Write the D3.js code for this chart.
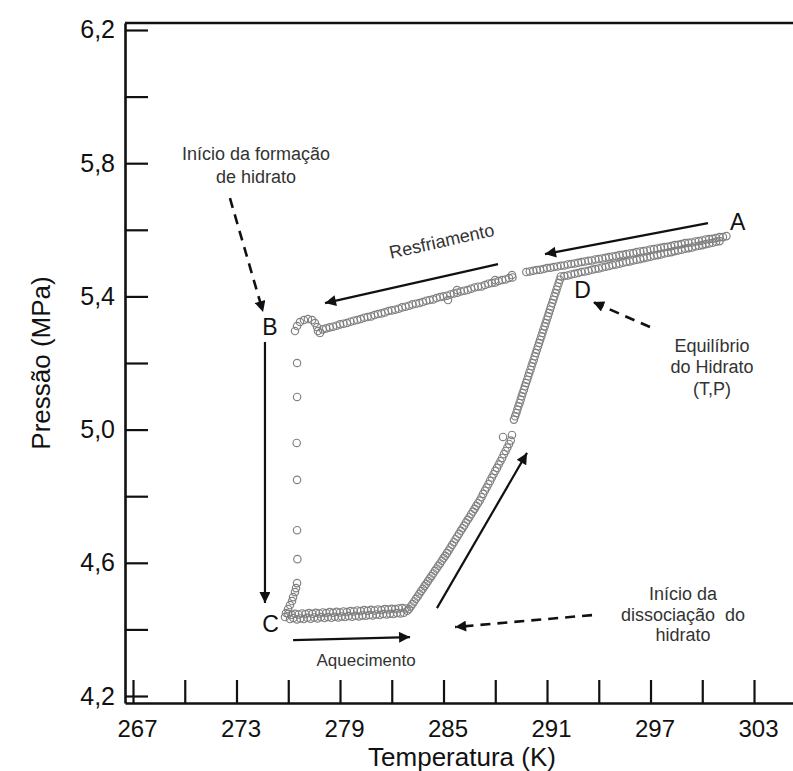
<!DOCTYPE html>
<html><head><meta charset="utf-8">
<script src="https://cdn.jsdelivr.net/npm/d3@7"></script>
<style>
html,body{margin:0;padding:0;background:#fff;}
svg text{font-family:"Liberation Sans",Arial,sans-serif;}
</style></head>
<body><svg id="chart" width="793" height="771"></svg>
<script>
// ---- data (T in K, P in MPa) ----
const xTicks = [267,270,273,276,279,282,285,288,291,294,297,300,303];
const xTickLabels = [267,273,279,285,291,297,303];
const yTicks = [4.2,4.4,4.6,4.8,5.0,5.2,5.4,5.6,5.8,6.0,6.2];
const yTickLabels = [4.2,4.6,5.0,5.4,5.8,6.2];

const coolingUpper = [[301.4,5.581],[301.2,5.578],[301.0,5.578],[300.8,5.575],[300.6,5.573],[300.4,5.572],[300.2,5.571],[300.0,5.568],[299.8,5.566],[299.6,5.565],[299.4,5.562],[299.2,5.561],[299.0,5.560],[298.8,5.557],[298.6,5.555],[298.4,5.554],[298.2,5.551],[298.0,5.549],[297.8,5.548],[297.6,5.546],[297.4,5.544],[297.2,5.542],[297.0,5.541],[296.8,5.538],[296.6,5.536],[296.4,5.535],[296.2,5.533],[296.0,5.530],[295.8,5.529],[295.6,5.527],[295.4,5.525],[295.2,5.524],[295.0,5.521],[294.8,5.520],[294.6,5.518],[294.4,5.516],[294.2,5.514],[294.0,5.512],[293.8,5.511],[293.6,5.508],[293.4,5.507],[293.2,5.505],[293.0,5.503],[292.8,5.501],[292.6,5.499],[292.4,5.497],[292.2,5.496],[292.0,5.493],[291.8,5.492],[291.6,5.490],[291.4,5.488],[291.2,5.486],[291.0,5.485],[290.8,5.482],[290.6,5.480],[290.4,5.479],[290.2,5.477],[290.0,5.475],[289.8,5.473]];

const coolingLower = [[289.0,5.457],[288.8,5.455],[288.6,5.451],[288.4,5.449],[288.2,5.446],[288.0,5.442],[287.8,5.440],[287.6,5.438],[287.4,5.434],[287.2,5.430],[287.0,5.429],[286.8,5.427],[286.6,5.423],[286.4,5.419],[286.2,5.417],[286.0,5.415],[285.8,5.411],[285.6,5.409],[285.4,5.406],[285.2,5.402],[285.0,5.400],[284.8,5.398],[284.6,5.395],[284.4,5.391],[284.2,5.389],[284.0,5.387],[283.8,5.383],[283.6,5.380],[283.4,5.378],[283.2,5.376],[283.0,5.372],[282.8,5.369],[282.6,5.367],[282.4,5.363],[282.2,5.360],[282.0,5.358],[281.8,5.356],[281.6,5.352],[281.4,5.349],[281.2,5.347],[281.0,5.344],[280.8,5.340],[280.6,5.338],[280.4,5.336],[280.2,5.332],[280.0,5.329],[279.8,5.327],[279.6,5.324],[279.4,5.320],[279.2,5.318],[279.0,5.316],[278.8,5.312],[278.6,5.309],[278.4,5.307],[278.2,5.304],[278.0,5.301],
  [285.26,5.389],[285.78,5.419],[287.99,5.449],[288.97,5.464]];

const hookB = [[277.84,5.290],[277.72,5.296],[277.67,5.308],[277.55,5.320],[277.38,5.329],[277.14,5.332],[276.91,5.329],[276.68,5.323],[276.51,5.311],[276.39,5.296]];

const dropBC = [[276.51,5.200],[276.51,5.098],[276.49,4.960],[276.51,4.849],[276.51,4.698],[276.53,4.611]];

const stackC = [[276.51,4.539],[276.45,4.524],[276.39,4.512],[276.28,4.497],[276.22,4.485],[276.10,4.473],[275.99,4.461],[275.87,4.449],[275.81,4.437]];

const flatUpper = [[276.0,4.447],[276.2,4.444],[276.4,4.447],[276.6,4.445],[276.8,4.448],[277.0,4.446],[277.2,4.449],[277.4,4.447],[277.6,4.450],[277.8,4.448],[278.0,4.451],[278.2,4.449],[278.4,4.452],[278.6,4.450],[278.8,4.453],[279.0,4.451],[279.2,4.454],[279.4,4.452],[279.6,4.455],[279.8,4.454],[280.0,4.457],[280.2,4.455],[280.4,4.458],[280.6,4.456],[280.8,4.459],[281.0,4.457],[281.2,4.460],[281.4,4.458],[281.6,4.461],[281.8,4.460],[282.0,4.462],[282.2,4.461],[282.4,4.463],[282.6,4.464],[282.8,4.463],[282.9,4.456]];

const flatLower = [[276.1,4.431],[276.3,4.434],[276.5,4.430],[276.7,4.433],[276.9,4.431],[277.1,4.435],[277.3,4.432],[277.5,4.436],[277.7,4.433],[277.9,4.437],[278.1,4.434],[278.3,4.437],[278.5,4.435],[278.7,4.438],[278.9,4.436],[279.1,4.439],[279.3,4.437],[279.5,4.440],[279.7,4.438],[279.9,4.441],[280.1,4.439],[280.3,4.442],[280.5,4.441],[280.7,4.443],[280.9,4.442],[281.1,4.445],[281.3,4.443],[281.5,4.446],[281.7,4.445],[281.9,4.447],[282.1,4.446],[282.3,4.449],[282.5,4.448],[282.7,4.450]];

const heatingRise1 = [[283.0,4.461],[283.1,4.469],[283.2,4.476],[283.3,4.484],[283.4,4.492],[283.5,4.499],[283.6,4.507],[283.7,4.515],[283.8,4.522],[283.9,4.530],[284.0,4.537],[284.1,4.545],[284.2,4.553],[284.3,4.560],[284.4,4.568],[284.5,4.576],[284.6,4.583],[284.7,4.591],[284.8,4.598],[284.9,4.606],[285.0,4.614],[285.1,4.621],[285.2,4.629],[285.3,4.637],[285.4,4.646],[285.5,4.654],[285.6,4.662],[285.7,4.671],[285.8,4.679],[285.9,4.687],[286.0,4.696],[286.1,4.704],[286.2,4.712],[286.3,4.721],[286.4,4.729],[286.5,4.737],[286.6,4.746],[286.7,4.754],[286.8,4.762],[286.9,4.771],[287.0,4.779],[287.1,4.787],[287.2,4.797],[287.3,4.807],[287.4,4.817],[287.5,4.826],[287.6,4.836],[287.7,4.846],[287.8,4.856],[287.9,4.866],[288.0,4.876],[288.1,4.885],[288.2,4.895],[288.3,4.905],[288.4,4.915],[288.5,4.926],[288.6,4.936],[288.7,4.946],[288.8,4.957],[288.9,4.967],[288.45,4.978],[288.97,4.984]];

const heatingRise2 = [[289.08,5.030],[289.15,5.040],[289.22,5.050],[289.28,5.060],[289.34,5.070],[289.41,5.080],[289.47,5.090],[289.53,5.100],[289.59,5.110],[289.66,5.120],[289.72,5.130],[289.78,5.140],[289.85,5.150],[289.91,5.160],[289.97,5.170],[290.04,5.180],[290.10,5.190],[290.16,5.200],[290.23,5.210],[290.29,5.220],[290.35,5.230],[290.41,5.240],[290.48,5.250],[290.54,5.260],[290.60,5.270],[290.67,5.280],[290.73,5.290],[290.79,5.300],[290.86,5.310],[290.92,5.320],[290.98,5.330],[291.05,5.340],[291.11,5.350],[291.17,5.360],[291.23,5.370],[291.30,5.380],[291.36,5.390],[291.42,5.400],[291.49,5.410],[291.55,5.420],[291.61,5.430],[291.68,5.440],[291.74,5.450],[291.80,5.460]];

const heatingTop = [[292.0,5.461],[292.2,5.463],[292.4,5.466],[292.6,5.468],[292.8,5.470],[293.0,5.473],[293.2,5.475],[293.4,5.477],[293.6,5.480],[293.8,5.482],[294.0,5.484],[294.2,5.487],[294.4,5.489],[294.6,5.491],[294.8,5.494],[295.0,5.496],[295.2,5.498],[295.4,5.501],[295.6,5.503],[295.8,5.505],[296.0,5.508],[296.2,5.510],[296.4,5.512],[296.6,5.515],[296.8,5.517],[297.0,5.519],[297.2,5.522],[297.4,5.524],[297.6,5.526],[297.8,5.529],[298.0,5.531],[298.2,5.533],[298.4,5.536],[298.6,5.538],[298.8,5.540],[299.0,5.543],[299.2,5.545],[299.4,5.547],[299.6,5.550],[299.8,5.552],[300.0,5.554],[300.2,5.557],[300.4,5.559],[300.6,5.561],[300.8,5.564],[301.0,5.566]];

// annotation arrows [T1,P1,T2(tip),P2]
const solidArrows = [[300.33,5.620,290.88,5.527],[288.16,5.497,278.13,5.380],[274.65,5.263,274.65,4.479],[276.28,4.368,283.06,4.377],[284.62,4.464,289.84,4.930]];
const dashedArrows = [[293.61,4.443,285.67,4.407],[272.62,5.695,274.54,5.353],[296.97,5.308,293.67,5.383]];
const pointLabels = [["A",302.05,5.599],["B",274.94,5.284],["C",274.97,4.392],["D",293.06,5.395]];
const noteLines = [
  ["Início da formação",274.13,5.810],["de hidrato",274.13,5.741],
  ["Equilíbrio",300.57,5.233],["do Hidrato",300.57,5.170],["(T,P)",300.57,5.104],
  ["Início da",298.88,4.488],["dissociação\u00a0\u00a0do",298.88,4.425],["hidrato",298.88,4.365],
  ["Aquecimento",280.51,4.289]];
const rotatedNote = ["Resfriamento",284.97,5.548,-12.5];

// ---- layout ----
const W=793,H=771, L=125, T0=23, R=793, B=703;
const svg=d3.select("#chart");
const x=d3.scaleLinear().domain([266.536,305.26]).range([L,R]);
const y=d3.scaleLinear().domain([4.179,6.221]).range([B,T0]);
const fmt=v=>d3.format(".1f")(v).replace(".",",");

// markers
const defs=svg.append("defs");
defs.append("marker").attr("id","ah").attr("viewBox","0 0 10 10").attr("refX",10).attr("refY",5)
  .attr("markerWidth",14).attr("markerHeight",11).attr("markerUnits","userSpaceOnUse").attr("orient","auto")
  .append("path").attr("d","M0,0L10,5L0,10z").attr("fill","#111");

// axes
const xAxis=d3.axisBottom(x).tickValues(xTicks).tickSizeInner(-23).tickSizeOuter(0).tickPadding(17)
  .tickFormat(d=>xTickLabels.includes(d)?String(d):"");
const gx=svg.append("g").attr("transform",`translate(0,${B})`).call(xAxis);
gx.selectAll("text").attr("font-size",24).attr("fill","#111").attr("dx",4);
const yAxis=d3.axisLeft(y).tickValues(yTicks).tickSizeInner(-23).tickSizeOuter(0).tickPadding(10)
  .tickFormat(d=>yTickLabels.some(v=>Math.abs(v-d)<1e-6)?fmt(d):"");
const gy=svg.append("g").attr("transform",`translate(${L},0)`).call(yAxis);
gy.selectAll("text").attr("font-size",25).attr("fill","#111");
[gx,gy].forEach(g=>{g.select(".domain").attr("stroke","#111").attr("stroke-width",2.6);
  g.selectAll(".tick line").attr("stroke","#111").attr("stroke-width",2.2);});
svg.append("line").attr("x1",L).attr("x2",R).attr("y1",T0).attr("y2",T0).attr("stroke","#111").attr("stroke-width",2.6);

svg.append("text").attr("x",462).attr("y",766).attr("text-anchor","middle").attr("font-size",26).attr("fill","#111").text("Temperatura (K)");
svg.append("text").attr("transform",`translate(50,${(T0+B)/2}) rotate(-90)`).attr("text-anchor","middle").attr("font-size",26).attr("fill","#111").text("Pressão (MPa)");

// data points
const series=[coolingUpper,coolingLower,hookB,dropBC,stackC,flatUpper,flatLower,heatingRise1,heatingRise2,heatingTop];
const gp=svg.append("g");
series.forEach(s=>{
  gp.selectAll(null).data(s).enter().append("circle")
    .attr("cx",d=>x(d[0])).attr("cy",d=>y(d[1])).attr("r",3.7)
    .attr("fill","none").attr("stroke","#808080").attr("stroke-width",1.15);
});

// arrows
const ga=svg.append("g");
ga.selectAll(null).data(solidArrows).enter().append("line")
  .attr("x1",d=>x(d[0])).attr("y1",d=>y(d[1])).attr("x2",d=>x(d[2])).attr("y2",d=>y(d[3]))
  .attr("stroke","#111").attr("stroke-width",2.2).attr("marker-end","url(#ah)");
ga.selectAll(null).data(dashedArrows).enter().append("line")
  .attr("x1",d=>x(d[0])).attr("y1",d=>y(d[1])).attr("x2",d=>x(d[2])).attr("y2",d=>y(d[3]))
  .attr("stroke","#111").attr("stroke-width",2.6).attr("stroke-dasharray","10,7").attr("marker-end","url(#ah)");

// labels
svg.selectAll(null).data(pointLabels).enter().append("text")
  .attr("x",d=>x(d[1])).attr("y",d=>y(d[2])).attr("text-anchor","middle")
  .attr("font-size",23).attr("fill","#111").text(d=>d[0]);
svg.selectAll(null).data(noteLines).enter().append("text")
  .attr("x",d=>x(d[1])).attr("y",d=>y(d[2])).attr("text-anchor","middle")
  .attr("font-size",d=>d[0]==="Aquecimento"?17:18).attr("fill","#333").text(d=>d[0]);
svg.append("text").attr("transform",`translate(${x(rotatedNote[1])},${y(rotatedNote[2])}) rotate(${rotatedNote[3]})`)
  .attr("text-anchor","middle").attr("font-size",18).attr("fill","#333").text(rotatedNote[0]);
</script></body></html>
